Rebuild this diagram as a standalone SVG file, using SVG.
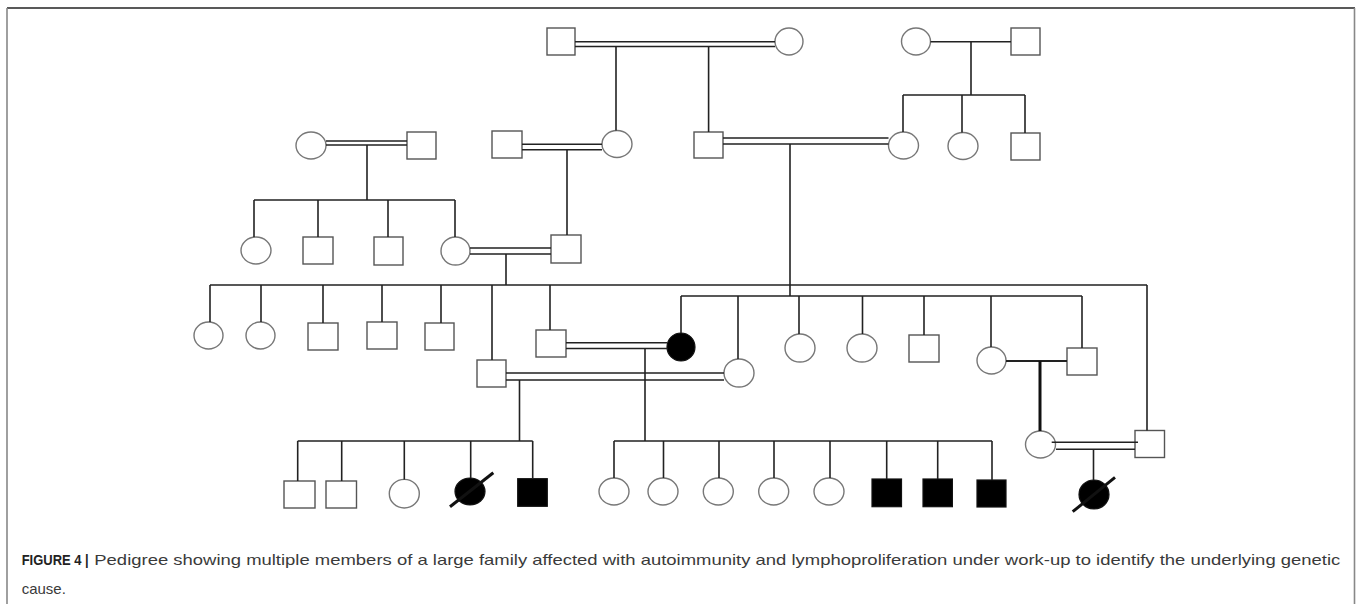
<svg xmlns="http://www.w3.org/2000/svg" width="1361" height="604" viewBox="0 0 1361 604">
<style>
.sq{fill:#fff;stroke:#555;stroke-width:1.4}
.ci{fill:#fff;stroke:#777;stroke-width:1.4}
.af{fill:#000;stroke:#111;stroke-width:1.2}
.ln{stroke:#222;stroke-width:1.6;fill:none}
.th{stroke:#111;stroke-width:3;fill:none}
.md{stroke:#222;stroke-width:2.2;fill:none}
.sl{stroke:#111;stroke-width:3}
.cap{font-family:"Liberation Sans",Arial,sans-serif;font-size:15px;fill:#3a3a3a}
.capb{font-family:"Liberation Sans",Arial,sans-serif;font-size:14.5px;font-weight:bold;fill:#222}
</style>
<rect width="1361" height="604" fill="#fff"/>
<g id="frame">
<line x1="7" y1="8" x2="1355" y2="8" stroke="#222" stroke-width="1.6"/>
<line x1="7" y1="8" x2="7" y2="604" stroke="#888" stroke-width="1.6"/>
<line x1="1354.5" y1="8" x2="1354.5" y2="604" stroke="#888" stroke-width="1.6"/>
</g>
<g id="I1"><rect class="sq" x="547" y="28" width="28" height="27"/></g>
<g id="I2"><ellipse class="ci" cx="789" cy="41.5" rx="14" ry="13.5"/></g>
<g id="I3"><ellipse class="ci" cx="916" cy="41.5" rx="14.5" ry="13.5"/></g>
<g id="I4"><rect class="sq" x="1011" y="28" width="29" height="27"/></g>
<g id="II1"><ellipse class="ci" cx="311" cy="145.5" rx="15" ry="13.5"/></g>
<g id="II2"><rect class="sq" x="407" y="132" width="29" height="27"/></g>
<g id="II3"><rect class="sq" x="492" y="131" width="30" height="27"/></g>
<g id="II4"><ellipse class="ci" cx="617" cy="144" rx="15" ry="13.5"/></g>
<g id="II5"><rect class="sq" x="694" y="132" width="29" height="26"/></g>
<g id="II6"><ellipse class="ci" cx="903.5" cy="145.5" rx="15" ry="13.5"/></g>
<g id="II7"><ellipse class="ci" cx="963" cy="146" rx="15" ry="13.5"/></g>
<g id="II8"><rect class="sq" x="1011" y="133" width="29" height="27"/></g>
<g id="III1"><ellipse class="ci" cx="256" cy="250.5" rx="15" ry="13.5"/></g>
<g id="III2"><rect class="sq" x="303" y="237" width="30" height="27"/></g>
<g id="III3"><rect class="sq" x="374" y="237" width="29" height="28"/></g>
<g id="III4"><ellipse class="ci" cx="455.5" cy="251" rx="14.5" ry="14"/></g>
<g id="III5"><rect class="sq" x="551" y="235" width="30" height="28"/></g>
<g id="IV1"><ellipse class="ci" cx="208.5" cy="335.5" rx="14.5" ry="13.5"/></g>
<g id="IV2"><ellipse class="ci" cx="260.5" cy="335.5" rx="14.5" ry="13.5"/></g>
<g id="IV3"><rect class="sq" x="308" y="323" width="30" height="27"/></g>
<g id="IV4"><rect class="sq" x="367" y="322" width="30" height="27"/></g>
<g id="IV5"><rect class="sq" x="425" y="323" width="29" height="27"/></g>
<g id="IV6"><rect class="sq" x="477" y="360" width="29" height="27"/></g>
<g id="IV7"><rect class="sq" x="536" y="330" width="30" height="27"/></g>
<g id="IV8"><ellipse class="af" cx="681" cy="347" rx="14" ry="14"/></g>
<g id="IV9"><ellipse class="ci" cx="739" cy="373" rx="15" ry="14"/></g>
<g id="IV10"><ellipse class="ci" cx="800" cy="348" rx="15" ry="14"/></g>
<g id="IV11"><ellipse class="ci" cx="862" cy="348" rx="15" ry="14"/></g>
<g id="IV12"><rect class="sq" x="909" y="335" width="30" height="27"/></g>
<g id="IV13"><ellipse class="ci" cx="991.5" cy="360.5" rx="14.5" ry="13.5"/></g>
<g id="IV14"><rect class="sq" x="1067" y="348" width="30" height="27"/></g>
<g id="V1"><ellipse class="ci" cx="1040.5" cy="444.5" rx="15" ry="13.5"/></g>
<g id="V2"><rect class="sq" x="1135" y="430.5" width="29.5" height="27"/></g>
<g id="VI1"><rect class="sq" x="284" y="481" width="31" height="27"/></g>
<g id="VI2"><rect class="sq" x="326" y="481" width="30.5" height="27"/></g>
<g id="VI3"><ellipse class="ci" cx="404.3" cy="493.7" rx="15" ry="14.3"/></g>
<g id="VI4"><ellipse class="af" cx="470" cy="491.5" rx="15" ry="13.5"/><line class="sl" x1="450" y1="506.7" x2="493.3" y2="472.7"/></g>
<g id="VI5"><rect class="af" x="517.7" y="478.7" width="29.6" height="27.6"/></g>
<g id="VI6"><ellipse class="ci" cx="614" cy="491.5" rx="15" ry="13.5"/></g>
<g id="VI7"><ellipse class="ci" cx="663" cy="491.5" rx="15" ry="13.5"/></g>
<g id="VI8"><ellipse class="ci" cx="718.3" cy="491.5" rx="15" ry="13.5"/></g>
<g id="VI9"><ellipse class="ci" cx="773.7" cy="491.5" rx="15" ry="13.5"/></g>
<g id="VI10"><ellipse class="ci" cx="829" cy="491.5" rx="15" ry="13.5"/></g>
<g id="VI11"><rect class="af" x="872" y="479" width="29.5" height="27.7"/></g>
<g id="VI12"><rect class="af" x="923" y="479" width="29.4" height="27.7"/></g>
<g id="VI13"><rect class="af" x="977" y="480" width="29" height="27"/></g>
<g id="VI14"><ellipse class="af" cx="1094" cy="494.5" rx="15" ry="14.5"/><line class="sl" x1="1072.7" y1="511.7" x2="1115" y2="477.3"/></g>
<g id="connectors">
<path class="ln" d="M575 41.7H775M575 46.5H775"/>
<path class="ln" d="M616 46.5V130.5M708.6 46.5V132"/>
<path class="ln" d="M930.5 41.7H1011M971 41.7V95M903 95H1025M903 95V132M962 95V132.5M1025 95V133"/>
<path class="ln" d="M326 141H407M326 145H407M367 145V200M254 200H455M254 200V237M318 200V237M388 200V237M455 200V237"/>
<path class="ln" d="M522 144.3H602M522 149.7H602M567 149.7V235"/>
<path class="ln" d="M723 138H888.5M723 144H888.5M790 144V296"/>
<path class="ln" d="M470 248H551M470 254H551M506 254V285"/>
<path class="ln" d="M210 285H1147M1147 285V430.5M210 285V322M261 285V322M323 285V323M382 285V322M441 285V323M492 285V360M550 285V330"/>
<path class="ln" d="M681 296H1082M681 296V333M738 296V359M799 296V334M862.5 296V334M924 296V335M991 296V347M1082 296V348"/>
<path class="ln" d="M566 342.7H667M566 348.5H667M645 348.5V441"/>
<path class="ln" d="M506 373H724M506 380H724M519.5 380V441"/>
<path class="md" d="M1006 361H1067"/>
<path class="th" d="M1040 361V431"/>
<path class="ln" d="M297.7 441H532.7M297.7 441V481M341.7 441V481M404.3 441V479.4M470.7 441V478M532.7 441V478.7"/>
<path class="ln" d="M614 441H992M614 441V478M663.5 441V478M719 441V478M774 441V478M830 441V478M886.7 441V479M937.7 441V479M992 441V480"/>
<path class="ln" d="M1051.7 442.3H1138M1056 449.3H1135M1093.5 449.3V480"/>
</g>
<g id="caption">
<text class="capb" x="21.7" y="565" textLength="67" lengthAdjust="spacingAndGlyphs">FIGURE 4 |</text>
<text class="cap" x="94.3" y="565" textLength="1246" lengthAdjust="spacingAndGlyphs">Pedigree showing multiple members of a large family affected with autoimmunity and lymphoproliferation under work-up to identify the underlying genetic</text>
<text class="cap" x="21.7" y="594">cause.</text>
</g>
</svg>
